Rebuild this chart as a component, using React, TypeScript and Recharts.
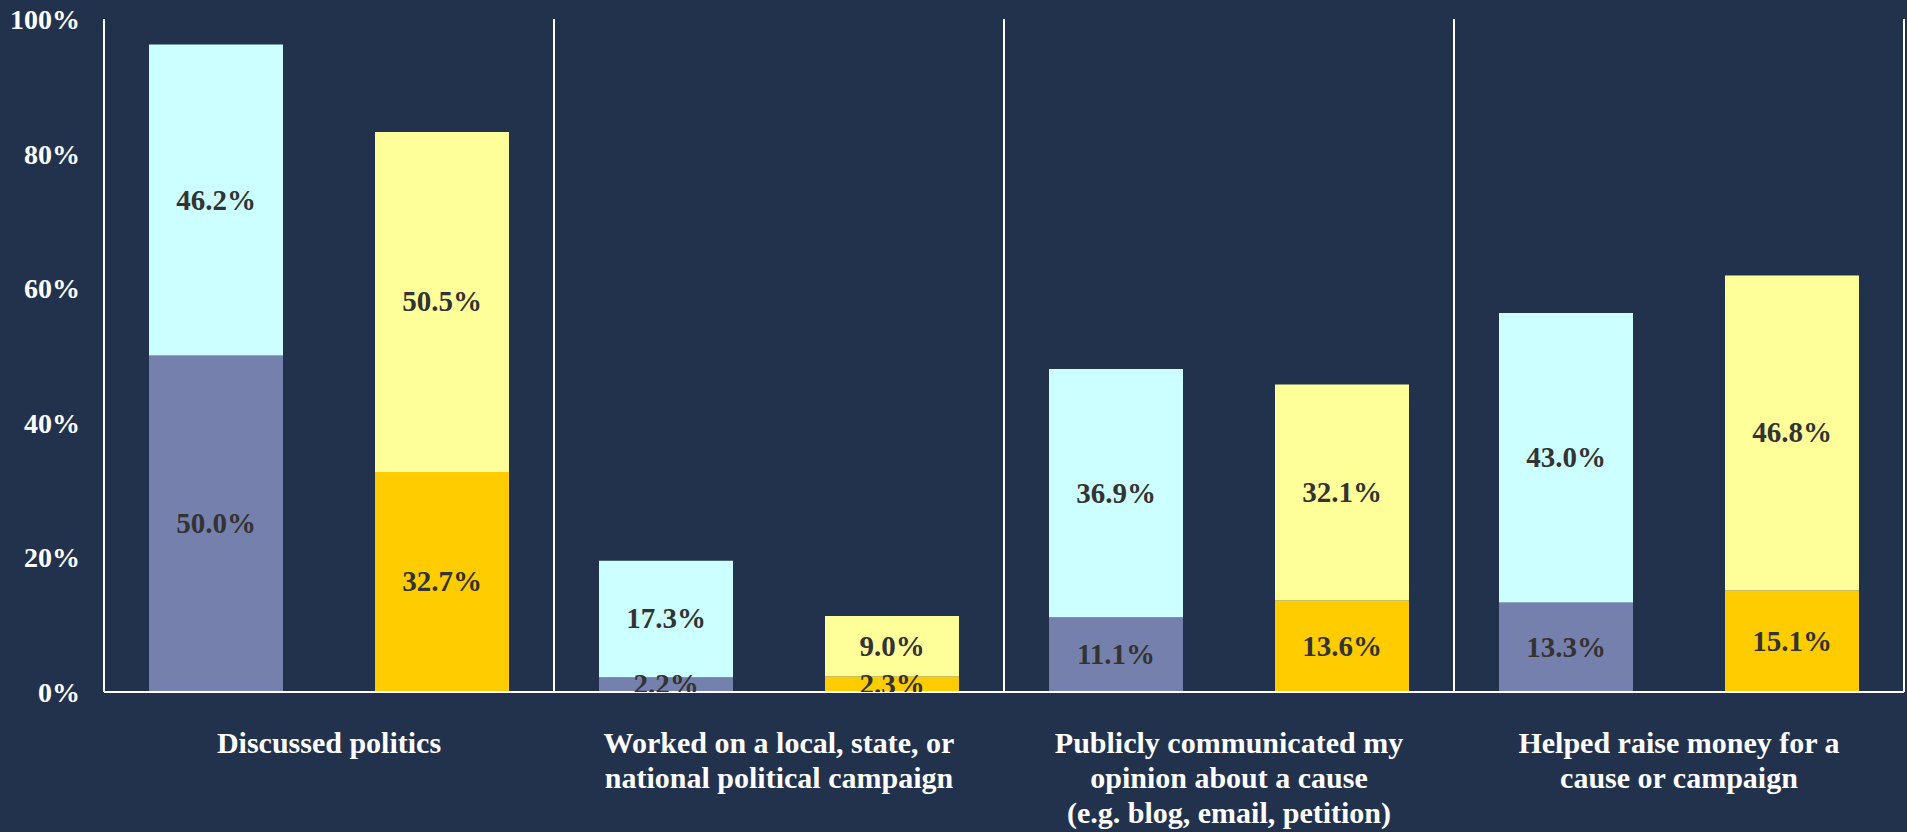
import { BarChart, Bar, XAxis, YAxis, ReferenceLine, LabelList } from "recharts";

const categories = [
  "Discussed politics",
  "Worked on a local, state, or\nnational political campaign",
  "Publicly communicated my\nopinion about a cause\n(e.g. blog, email, petition)",
  "Helped raise money for a\ncause or campaign",
];
const leftBase = [50.0, 2.2, 11.1, 13.3];
const leftTop = [46.2, 17.3, 36.9, 43.0];
const rightBase = [32.7, 2.3, 13.6, 15.1];
const rightTop = [50.5, 9.0, 32.1, 46.8];
const yTicks = [0, 20, 40, 60, 80, 100];

const chartData = categories.map((name, i) => ({
  name,
  leftBase: leftBase[i],
  leftTop: leftTop[i],
  rightBase: rightBase[i],
  rightTop: rightTop[i],
}));

const FONT = '"Liberation Serif", "DejaVu Serif", serif';
const BG = "#22324d";

function CategoryTick({ x, y, payload }: any) {
  const lines = String(payload.value).split("\n");
  return (
    <text
      x={x}
      y={y + 53}
      textAnchor="middle"
      fill="#ffffff"
      fontSize={30}
      fontWeight="bold"
      fontFamily={FONT}
    >
      {lines.map((line, i) => (
        <tspan key={i} x={x} dy={i === 0 ? 0 : 35}>
          {line}
        </tspan>
      ))}
    </text>
  );
}

function makeLabel(series: string, clipBottom: boolean) {
  return function SegmentLabel(props: any) {
    const { x, y, width, height, value, index } = props;
    const cx = x + width / 2;
    const cy = y + height / 2;
    const clipId = `clip-${series}-${index}`;
    return (
      <g>
        {clipBottom && (
          <defs>
            <clipPath id={clipId}>
              <rect x={x - 50} y={y + height - 2000} width={width + 100} height={2000} />
            </clipPath>
          </defs>
        )}
        <text
          x={cx}
          y={cy + 9.5}
          textAnchor="middle"
          fill="#333333"
          fontSize={29}
          fontWeight="bold"
          fontFamily={FONT}
          clipPath={clipBottom ? `url(#${clipId})` : undefined}
        >
          {`${Number(value).toFixed(1)}%`}
        </text>
      </g>
    );
  };
}

export default function App() {
  return (
    <div
      style={{
        position: "absolute",
        left: 0,
        top: 0,
        width: 1907,
        height: 832,
        background: BG,
      }}
    >
      <BarChart
        width={1907}
        height={832}
        data={chartData}
        margin={{ top: 19, right: 3, bottom: 0, left: 0 }}
        barSize={134}
        barGap={92}
      >
        <XAxis
          dataKey="name"
          type="category"
          height={140}
          axisLine={{ stroke: "#ffffff", strokeWidth: 2 }}
          tickLine={false}
          tick={<CategoryTick />}
          interval={0}
        />
        <YAxis
          type="number"
          domain={[0, 100]}
          ticks={yTicks}
          width={104}
          axisLine={{ stroke: "#ffffff", strokeWidth: 2 }}
          tickLine={false}
          tickMargin={18}
          tickFormatter={(v) => `${v}%`}
          tick={{ fill: "#ffffff", fontSize: 28, fontWeight: "bold", fontFamily: FONT }}
        />
        {/* white divider at the right edge of every category band */}
        {categories.map((name) => (
          <ReferenceLine
            key={name}
            x={name}
            position="end"
            stroke="#ffffff"
            strokeWidth={2}
            ifOverflow="visible"
          />
        ))}
        <Bar dataKey="leftBase" stackId="left" fill="#7580ac" isAnimationActive={false}>
          <LabelList dataKey="leftBase" content={makeLabel("lb", true)} />
        </Bar>
        <Bar dataKey="leftTop" stackId="left" fill="#ccffff" isAnimationActive={false}>
          <LabelList dataKey="leftTop" content={makeLabel("lt", false)} />
        </Bar>
        <Bar dataKey="rightBase" stackId="right" fill="#ffcc00" isAnimationActive={false}>
          <LabelList dataKey="rightBase" content={makeLabel("rb", true)} />
        </Bar>
        <Bar dataKey="rightTop" stackId="right" fill="#ffff99" isAnimationActive={false}>
          <LabelList dataKey="rightTop" content={makeLabel("rt", false)} />
        </Bar>
      </BarChart>
    </div>
  );
}
